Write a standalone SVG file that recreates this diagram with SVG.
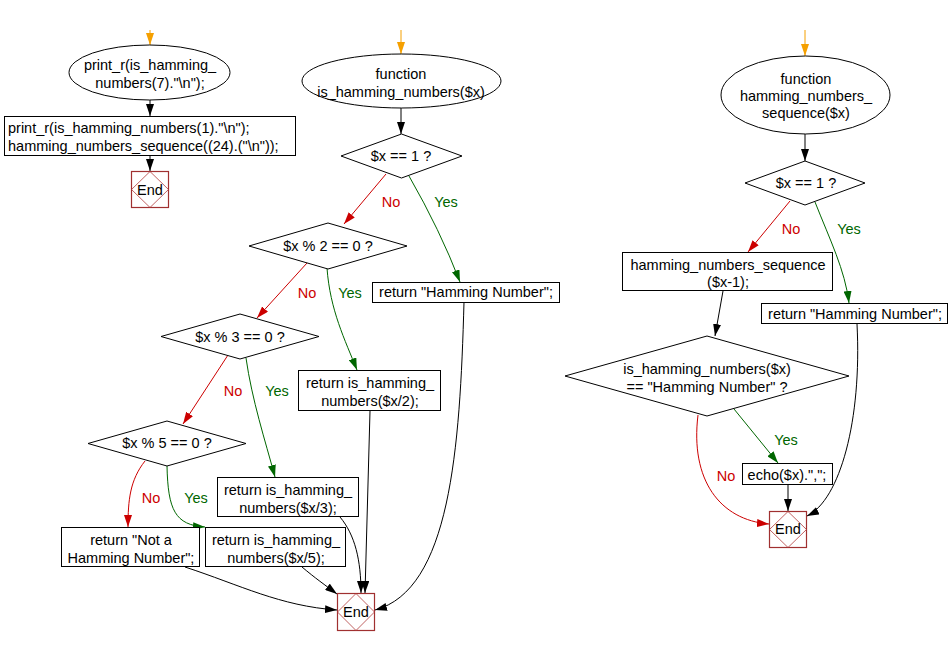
<svg xmlns="http://www.w3.org/2000/svg" width="950" height="646" viewBox="0 0 950 646">
<style>
text{font-family:"Liberation Sans",Arial,sans-serif;font-size:14.5px;fill:#000}
.c{text-anchor:middle}
.shape{fill:#fff;stroke:#000;stroke-width:1}
.endbox{fill:#fff;stroke:#a03030;stroke-width:1.2}
.enddia{fill:none;stroke:#b03a3a;stroke-width:0.8}
.e{fill:none;stroke-width:1}
.k{stroke:#000}
.r{stroke:#cc0000}
.g{stroke:#006600}
.o{stroke:#f5a000}
.no{fill:#cc0000}
.yes{fill:#006600}
</style>
<defs>
<marker id="ak" viewBox="0 0 12 8" refX="12" refY="4" markerWidth="12" markerHeight="8" markerUnits="userSpaceOnUse" orient="auto"><path d="M0,0 L12,4 L0,8 z" fill="#000"/></marker>
<marker id="ar" viewBox="0 0 12 8" refX="12" refY="4" markerWidth="12" markerHeight="8" markerUnits="userSpaceOnUse" orient="auto"><path d="M0,0 L12,4 L0,8 z" fill="#cc0000"/></marker>
<marker id="ag" viewBox="0 0 12 8" refX="12" refY="4" markerWidth="12" markerHeight="8" markerUnits="userSpaceOnUse" orient="auto"><path d="M0,0 L12,4 L0,8 z" fill="#006600"/></marker>
<marker id="ao" viewBox="0 0 12 8" refX="12" refY="4" markerWidth="12" markerHeight="8" markerUnits="userSpaceOnUse" orient="auto"><path d="M0,0 L12,4 L0,8 z" fill="#f5a000"/></marker>
</defs>

<g id="connectors">
<!-- left -->
<path class="e o" d="M150,30 L150,45" marker-end="url(#ao)"/>
<path class="e k" d="M150,100 L150,116" marker-end="url(#ak)"/>
<path class="e k" d="M150,156 L150,171" marker-end="url(#ak)"/>
<!-- middle -->
<path class="e o" d="M401,30 L401,54" marker-end="url(#ao)"/>
<path class="e k" d="M401,108 L401,134" marker-end="url(#ak)"/>
<path class="e r" d="M386,174 L344,224" marker-end="url(#ar)"/>
<path class="e g" d="M409,176 Q440,230 460,282" marker-end="url(#ag)"/>
<path class="e r" d="M307,263 L257,318" marker-end="url(#ar)"/>
<path class="e g" d="M327,268 C330,310 345,340 357,370" marker-end="url(#ag)"/>
<path class="e r" d="M228,355 L183,424" marker-end="url(#ar)"/>
<path class="e g" d="M246,358 C252,400 265,440 275,477" marker-end="url(#ag)"/>
<path class="e r" d="M145,461 C130,480 128,500 128,527" marker-end="url(#ar)"/>
<path class="e g" d="M167,466 C168,510 175,525 205,527" marker-end="url(#ag)"/>
<path class="e k" d="M185,567 C240,585 280,606 337,610" marker-end="url(#ak)"/>
<path class="e k" d="M302,567 C315,578 325,585 337,594" marker-end="url(#ak)"/>
<path class="e k" d="M340,517 C355,535 361,560 361,593" marker-end="url(#ak)"/>
<path class="e k" d="M370,411 L365,593" marker-end="url(#ak)"/>
<path class="e k" d="M464,302 C460,450 450,590 375,610" marker-end="url(#ak)"/>
<!-- right -->
<path class="e o" d="M805,30 L805,56" marker-end="url(#ao)"/>
<path class="e k" d="M805,134 L805,161" marker-end="url(#ak)"/>
<path class="e r" d="M790,201 L748,252" marker-end="url(#ar)"/>
<path class="e g" d="M815,202 C830,240 845,270 849,303" marker-end="url(#ag)"/>
<path class="e k" d="M723,291 L715,336" marker-end="url(#ak)"/>
<path class="e g" d="M734,409 L778,463" marker-end="url(#ag)"/>
<path class="e r" d="M698,415 C690,480 720,520 769,524" marker-end="url(#ar)"/>
<path class="e k" d="M788,485 L788,511" marker-end="url(#ak)"/>
<path class="e k" d="M857,324 C862,420 840,500 807,516" marker-end="url(#ak)"/>
<!-- labels -->
<text class="c no" x="391" y="207">No</text>
<text class="c yes" x="446" y="207">Yes</text>
<text class="c no" x="307" y="298">No</text>
<text class="c yes" x="350" y="298">Yes</text>
<text class="c no" x="233" y="396">No</text>
<text class="c yes" x="277" y="396">Yes</text>
<text class="c no" x="151" y="503">No</text>
<text class="c yes" x="196" y="503">Yes</text>
<text class="c no" x="791" y="234">No</text>
<text class="c yes" x="849" y="234">Yes</text>
<text class="c yes" x="786" y="445">Yes</text>
<text class="c no" x="726" y="481">No</text>
</g>

<!-- left column -->
<g id="start1">
<ellipse class="shape" cx="149.5" cy="72.5" rx="80.5" ry="27.5"/>
<text class="c" x="150" y="70">print_r(is_hamming_</text>
<text class="c" x="150" y="88">numbers(7)."\n");</text>
</g>
<g id="main_stmt">
<rect class="shape" x="4.5" y="116.5" width="291" height="39"/>
<text x="8" y="133">print_r(is_hamming_numbers(1)."\n");</text>
<text x="8" y="151">hamming_numbers_sequence((24).("\n"));</text>
</g>
<g id="end1">
<rect class="endbox" x="131.5" y="171.5" width="37" height="36"/>
<path class="enddia" d="M150,171.5 L168.5,189.5 L150,207.5 L131.5,189.5 Z"/>
<text class="c" x="150" y="195">End</text>
</g>

<!-- middle column -->
<g id="start2">
<ellipse class="shape" cx="401.5" cy="81" rx="99.5" ry="27"/>
<text class="c" x="401" y="79">function</text>
<text class="c" x="401" y="97">is_hamming_numbers($x)</text>
</g>
<g id="d1">
<polygon class="shape" points="401.5,134 462,156 401.5,178 341,156"/>
<text class="c" x="401" y="161">$x == 1 ?</text>
</g>
<g id="ret_hn1">
<rect class="shape" x="372.5" y="282.5" width="187" height="20"/>
<text class="c" x="466" y="297">return "Hamming Number";</text>
</g>
<g id="d2">
<polygon class="shape" points="328,223 407,246 328,269 249,246"/>
<text class="c" x="328" y="251">$x % 2 == 0 ?</text>
</g>
<g id="d3">
<polygon class="shape" points="240,314 319,336.5 240,359 161,336.5"/>
<text class="c" x="240" y="342">$x % 3 == 0 ?</text>
</g>
<g id="ret2">
<rect class="shape" x="298.5" y="370.5" width="142" height="40"/>
<text class="c" x="370" y="388">return is_hamming_</text>
<text class="c" x="370" y="406">numbers($x/2);</text>
</g>
<g id="d5">
<polygon class="shape" points="167,421 246,443.5 167,466 88,443.5"/>
<text class="c" x="167" y="448">$x % 5 == 0 ?</text>
</g>
<g id="ret3">
<rect class="shape" x="217.5" y="477.5" width="141" height="39"/>
<text class="c" x="288" y="495">return is_hamming_</text>
<text class="c" x="288" y="513">numbers($x/3);</text>
</g>
<g id="ret_not">
<rect class="shape" x="61.5" y="527.5" width="138" height="39"/>
<text class="c" x="131" y="545">return "Not a</text>
<text class="c" x="131" y="563">Hamming Number";</text>
</g>
<g id="ret5">
<rect class="shape" x="205.5" y="527.5" width="140" height="39"/>
<text class="c" x="276" y="545">return is_hamming_</text>
<text class="c" x="276" y="563">numbers($x/5);</text>
</g>
<g id="end2">
<rect class="endbox" x="337.5" y="593.5" width="37" height="37"/>
<path class="enddia" d="M356,593.5 L374.5,612 L356,630.5 L337.5,612 Z"/>
<text class="c" x="356" y="617">End</text>
</g>

<!-- right column -->
<g id="start3">
<ellipse class="shape" cx="805.5" cy="95" rx="84.5" ry="39"/>
<text class="c" x="806" y="84">function</text>
<text class="c" x="806" y="101">hamming_numbers_</text>
<text class="c" x="806" y="118">sequence($x)</text>
</g>
<g id="rd1">
<polygon class="shape" points="805,161 865,183 805,205 745,183"/>
<text class="c" x="806" y="188">$x == 1 ?</text>
</g>
<g id="seq_call">
<rect class="shape" x="622.5" y="252.5" width="210" height="38"/>
<text class="c" x="728" y="270">hamming_numbers_sequence</text>
<text class="c" x="728" y="287">($x-1);</text>
</g>
<g id="ret_hn2">
<rect class="shape" x="761.5" y="303.5" width="186" height="20"/>
<text class="c" x="855" y="319">return "Hamming Number";</text>
</g>
<g id="rd2">
<polygon class="shape" points="707,336 849,376 707,416 565,376"/>
<text class="c" x="707" y="374">is_hamming_numbers($x)</text>
<text class="c" x="707" y="392">== "Hamming Number" ?</text>
</g>
<g id="echo">
<rect class="shape" x="742.5" y="463.5" width="90" height="21"/>
<text class="c" x="787" y="480">echo($x).",";</text>
</g>
<g id="end3">
<rect class="endbox" x="769.5" y="511.5" width="37" height="36"/>
<path class="enddia" d="M788,511.5 L806.5,529.5 L788,547.5 L769.5,529.5 Z"/>
<text class="c" x="788" y="534">End</text>
</g>
</svg>
